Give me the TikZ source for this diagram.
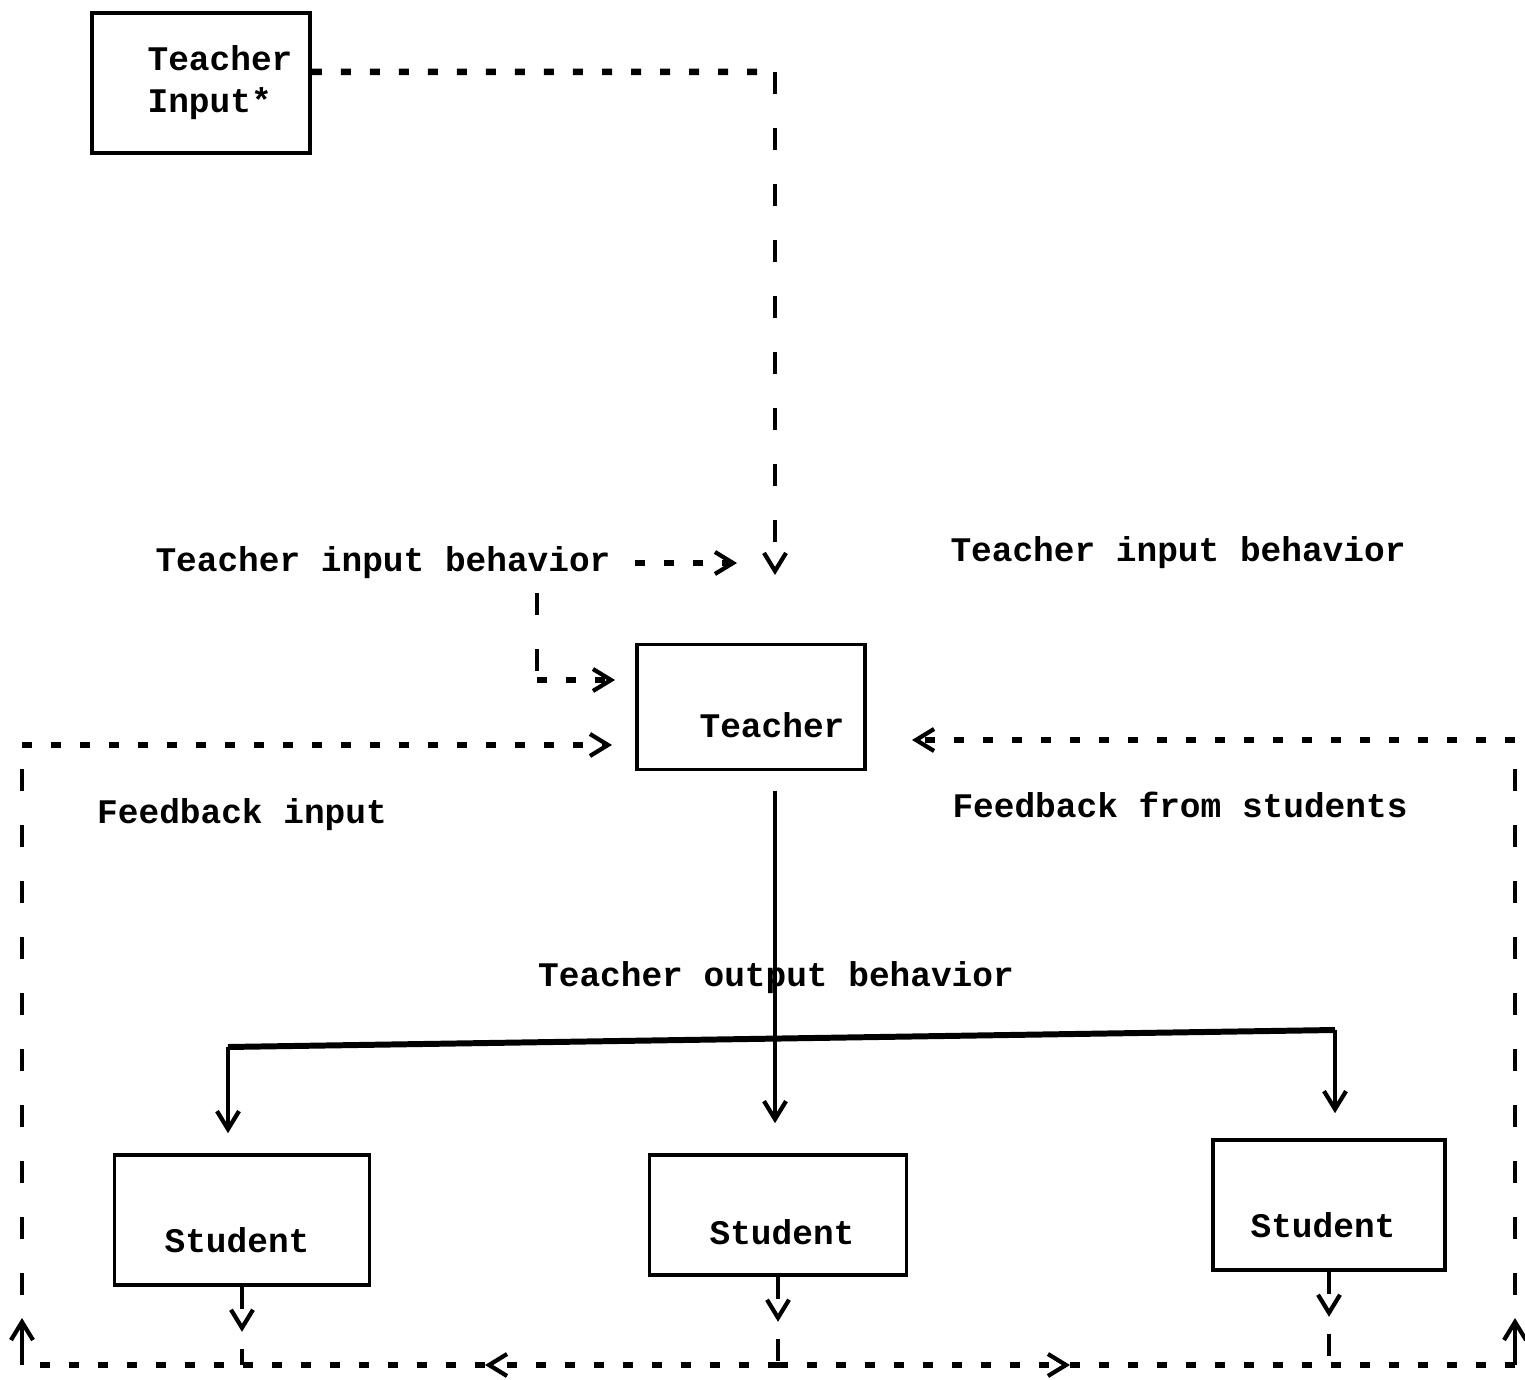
\documentclass[tikz,border=0pt]{standalone}
\usepackage{fontspec}
\newfontfamily\typewfont{Liberation Mono}
\usetikzlibrary{arrows.meta,positioning,calc}

\begin{document}
\begin{tikzpicture}[x=0.01cm, y=-0.01cm,
    txt/.style={font=\typewfont\bfseries\fontsize{9.8}{12}\selectfont, inner sep=1pt},
    box/.style={draw, line width=1pt, inner sep=0pt},
    hdash/.style={line width=0.065cm, dash pattern=on 0.1cm off 0.19cm},
    vdash/.style={line width=0.035cm, dash pattern=on 0.22cm off 0.34cm},
    wire/.style={line width=1pt},
    bus/.style={line width=1.7pt},
    >={Straight Barb[length=1.8mm, width=2.2mm, line width=1.2pt]},
]
\useasboundingbox (0,0) rectangle (1525,1380);

% Boxes
\node[txt, box, align=left, minimum width=2.18cm, minimum height=1.4cm] (tinput) at (201,83)
    {\hspace*{0.38cm}Teacher\\\hspace*{0.38cm}Input*};
\node[box, minimum width=2.28cm, minimum height=1.25cm,
    label={[txt, name=teacherlbl, xshift=0.21cm, yshift=-0.18cm]center:Teacher}] (teacher) at (751,707) {};
\node[box, minimum width=2.55cm, minimum height=1.3cm,
    label={[txt, name=stleftlbl, xshift=-0.05cm, yshift=-0.2cm]center:Student}] (stleft) at (242,1220) {};
\node[box, minimum width=2.57cm, minimum height=1.2cm,
    label={[txt, name=stmidlbl, xshift=0.04cm, yshift=-0.17cm]center:Student}] (stmid) at (778,1215) {};
\node[box, minimum width=2.32cm, minimum height=1.3cm,
    label={[txt, name=strightlbl, xshift=-0.06cm, yshift=-0.2cm]center:Student}] (stright) at (1329,1205) {};

% Labels
\node[txt] (inbehavl) at (383,563) {Teacher input behavior};
\node[txt] (inbehavr) at (1178,553) {Teacher input behavior};
\node[txt] (fbin) at (242,815) {Feedback input};
\node[txt] (fbstud) at (1180,805) {Feedback from students};
\node[txt] (outbehav) at (776,978) {Teacher output behavior};

% Corners and free ends
\coordinate (tinturn) at (775,72);
\coordinate (tinend) at (775,575);
\coordinate (behavend) at (737,563);
\coordinate (behavturn) at (537,680);
\coordinate (behavtip) at (615,680);
\coordinate (fbltop) at (22,745);
\coordinate (fbltip) at (612,745);
\coordinate (fbrtop) at (1515,740);
\coordinate (fbrtip) at (912,740);
\coordinate (busl) at (228,1047);
\coordinate (busr) at (1335,1030);
\coordinate (bl) at (22,1365);
\coordinate (br) at (1515,1365);
\coordinate (blarrow) at (22,1318);
\coordinate (brarrow) at (1515,1318);
\coordinate (blup) at (22,1295);
\coordinate (brup) at (1515,1295);
\coordinate (botleft) at (485,1365);
\coordinate (botright) at (1070,1365);

% Teacher input
\draw[hdash] ([yshift=0.11cm]tinput.east) -- (tinturn);
\draw[vdash,->] (tinturn) -- (tinend);
\draw[hdash,->, shorten <=0.2cm] (inbehavl.east) -- (behavend);
\draw[vdash] ([yshift=-0.1cm]inbehavl.south -| behavturn) -- (behavturn);
\draw[hdash,->] (behavturn) -- (behavtip);

% Teacher output
\draw[wire,->, shorten <=0.2cm, shorten >=0.3cm] (teacher.south -| tinturn) -- (tinturn |- stmid.north);
\draw[bus] (busl) -- (busr);
\draw[wire,->, shorten >=0.2cm] (busl) -- (busl |- stleft.north);
\draw[wire,->, shorten >=0.25cm] (busr) -- (busr |- stright.north);

% Feedback from students
\foreach \s in {stleft,stmid,stright} {
    \coordinate (\s tip) at ($(\s.south)+(0,45)$);
    \draw[vdash,->] (\s.south) -- (\s tip);
    \draw[vdash] ($(\s tip)+(0,17)$) -- (\s.south |- bl);
}
\draw[hdash,->] (stmid.south |- bl) -- (botleft);
\draw[hdash] (botleft) -- (bl);
\draw[hdash,->] (stmid.south |- bl) -- (botright);
\draw[hdash] (botright) -- (br);

% Feedback loops back to teacher
\draw[wire,->] (bl) -- (blarrow);
\draw[vdash] (blup) -- (fbltop);
\draw[hdash,->] (fbltop) -- (fbltip);
\draw[wire,->] (br) -- (brarrow);
\draw[vdash] (brup) -- (fbrtop);
\draw[hdash,->] (fbrtop) -- (fbrtip);
\end{tikzpicture}
\end{document}
